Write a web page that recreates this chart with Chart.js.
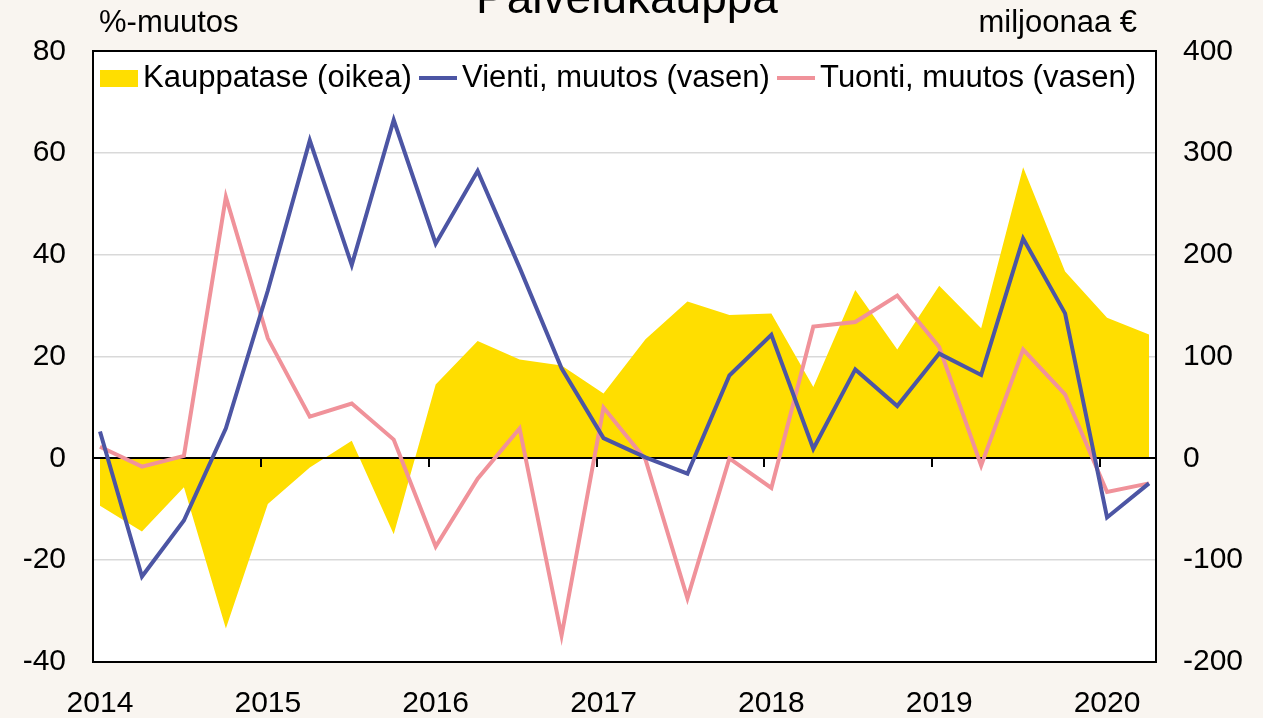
<!DOCTYPE html>
<html>
<head>
<meta charset="utf-8">
<script src="https://cdn.jsdelivr.net/npm/chart.js@4.4.1/dist/chart.umd.min.js"></script>
<style>
  html, body { margin: 0; padding: 0; background: #f9f5f0; }
  #wrap { width: 1263px; height: 718px; }
</style>
</head>
<body>
<div id="wrap"><canvas id="c" width="1263" height="718"></canvas></div>
<script>
// ---- Data ----
const quarters = ['2014Q1','2014Q2','2014Q3','2014Q4','2015Q1','2015Q2','2015Q3','2015Q4',
  '2016Q1','2016Q2','2016Q3','2016Q4','2017Q1','2017Q2','2017Q3','2017Q4',
  '2018Q1','2018Q2','2018Q3','2018Q4','2019Q1','2019Q2','2019Q3','2019Q4','2020Q1','2020Q2'];
const kauppatase = [-46.5,-71.7,-28.2,-167,-44.7,-8.9,17.3,-74.4,72.6,115.3,97.2,91.2,63.8,117.1,
  154.2,140.9,142.3,70.2,165.4,107,169.6,128,286,183.6,138.1,121.7];
const vienti = [5.3,-23.2,-12.2,5.9,33,62.5,38.0,66.5,42.2,56.5,37.5,17.7,4.0,0.2,-3.0,16.3,
  24.3,1.9,17.5,10.3,20.6,16.4,43.2,28.5,-11.6,-4.9];
const tuonti = [2.3,-1.6,0.5,51.4,23.6,8.2,10.8,3.7,-17.3,-4.0,5.9,-34.8,10.0,-0.2,-27.5,0,
  -5.8,25.9,26.8,32.0,21.9,-1.4,21.4,12.6,-6.6,-4.9];
const yearLabels = ['2014','2015','2016','2017','2018','2019','2020'];
const seriesNames = ['Kauppatase (oikea)','Vienti, muutos (vasen)','Tuonti, muutos (vasen)'];
const titleText = 'Palvelukauppa';
const leftUnit = '%-muutos';
const rightUnit = 'miljoonaa €';

// quarter index -> month offset from Jan 2014 (points sit at first month of quarter)
const toPoints = arr => arr.map((v, i) => ({ x: i * 3, y: v }));

const FONT = "'Liberation Sans', Arial, sans-serif";
const LEG_PAD = 17.7;

function legendSymbol(kind, color) {
  const c = document.createElement('canvas');
  c.width = 38;
  c.height = kind === 'rect' ? 17 : 4;
  const g = c.getContext('2d');
  g.fillStyle = color;
  g.fillRect(0, 0, c.width, c.height);
  return c;
}

const bgPlugin = {
  id: 'bg',
  beforeDraw(chart) {
    const { ctx, chartArea: a } = chart;
    ctx.save();
    ctx.fillStyle = '#f9f5f0';
    ctx.fillRect(0, 0, chart.width, chart.height);
    ctx.fillStyle = '#ffffff';
    ctx.fillRect(a.left, a.top, a.right - a.left, a.bottom - a.top);
    ctx.restore();
  }
};

// place the legend inside the plot area, at its top
const legendPlacePlugin = {
  id: 'legendPlace',
  afterLayout(chart) {
    const lg = chart.legend;
    if (!lg) return;
    const h = lg.height;
    lg.left = 92.8;
    lg.right = chart.width;
    lg.top = 44.8;
    lg.bottom = lg.top + h;
  }
};

const zeroAxisPlugin = {
  id: 'zeroAxis',
  beforeDatasetsDraw(chart) {
    const { ctx, chartArea: a, scales } = chart;
    const y0 = Math.round(scales.y.getPixelForValue(0));
    ctx.save();
    ctx.strokeStyle = '#000';
    ctx.lineWidth = 2;
    ctx.beginPath();
    ctx.moveTo(a.left, y0);
    ctx.lineTo(a.right, y0);
    ctx.stroke();
    for (let k = 1; k < yearLabels.length; k++) {
      const x = Math.round(scales.x.getPixelForValue(12 * k - 0.5));
      ctx.beginPath();
      ctx.moveTo(x, y0);
      ctx.lineTo(x, y0 + 9);
      ctx.stroke();
    }
    ctx.restore();
  }
};

const textPlugin = {
  id: 'texts',
  afterDraw(chart) {
    const { ctx } = chart;
    ctx.save();
    ctx.fillStyle = '#000';
    ctx.textBaseline = 'alphabetic';
    ctx.font = '46px ' + FONT;
    ctx.textAlign = 'center';
    ctx.fillText(titleText, 627, 13);
    ctx.font = '31px ' + FONT;
    ctx.textAlign = 'left';
    ctx.fillText(leftUnit, 99, 32);
    ctx.textAlign = 'right';
    ctx.fillText(rightUnit, 1137, 32);
    ctx.restore();
  }
};

new Chart(document.getElementById('c'), {
  type: 'line',
  data: {
    datasets: [
      {
        label: seriesNames[0],
        data: toPoints(kauppatase),
        yAxisID: 'y1',
        fill: 'origin',
        backgroundColor: '#ffde00',
        borderColor: '#ffde00',
        borderWidth: 0,
        pointRadius: 0,
        tension: 0
      },
      {
        label: seriesNames[1],
        data: toPoints(vienti),
        yAxisID: 'y',
        fill: false,
        borderColor: '#4c55a4',
        backgroundColor: '#4c55a4',
        borderWidth: 4,
        pointRadius: 0,
        tension: 0
      },
      {
        label: seriesNames[2],
        data: toPoints(tuonti),
        yAxisID: 'y',
        fill: false,
        borderColor: '#f0929a',
        backgroundColor: '#f0929a',
        borderWidth: 4,
        pointRadius: 0,
        tension: 0
      }
    ]
  },
  options: {
    responsive: false,
    devicePixelRatio: 1,
    animation: false,
    layout: { padding: { top: 59 - (31 + 2 * LEG_PAD), left: 0, right: 0, bottom: 0 } },
    plugins: {
      filler: { drawTime: 'beforeDatasetsDraw', propagate: false },
      tooltip: { enabled: false },
      title: { display: false },
      legend: {
        position: 'top',
        align: 'start',
        labels: {
          usePointStyle: true,
          pointStyleWidth: 17,
          padding: LEG_PAD,
          color: '#000',
          font: { family: FONT, size: 31 },
          generateLabels(chart) {
            const items = Chart.defaults.plugins.legend.labels.generateLabels(chart);
            items.forEach(it => {
              it.pointStyle = it.datasetIndex === 0
                ? legendSymbol('rect', it.fillStyle)
                : legendSymbol('line', it.strokeStyle);
              it.lineWidth = 0;
            });
            return items;
          }
        }
      }
    },
    scales: {
      x: {
        type: 'linear',
        position: 'bottom',
        min: -0.5,
        max: 75.5,
        afterBuildTicks: s => { s.ticks = yearLabels.map((_, k) => ({ value: 12 * k })); },
        ticks: {
          callback: (v, i) => yearLabels[i],
          color: '#000',
          font: { family: FONT, size: 30 },
          padding: 24,
          maxRotation: 0,
          autoSkip: false
        },
        grid: { display: false, drawTicks: false },
        border: { display: true, color: '#000', width: 2 },
        afterFit: s => { s.height = 56; }
      },
      y: {
        position: 'left',
        min: -40,
        max: 80,
        ticks: { stepSize: 20, padding: 27, color: '#000', font: { family: FONT, size: 30 } },
        grid: {
          drawTicks: false,
          color: c => (c.tick.value === 0 ? 'rgba(0,0,0,0)' : (c.tick.value === 80 || c.tick.value === -40) ? '#000' : '#d9d9d9'),
          lineWidth: c => (c.tick.value === 80 || c.tick.value === -40) ? 2 : 1.5
        },
        border: { display: true, color: '#000', width: 2 },
        afterFit: s => { s.width = 93; }
      },
      y1: {
        position: 'right',
        min: -200,
        max: 400,
        ticks: { stepSize: 100, padding: 27, color: '#000', font: { family: FONT, size: 30 } },
        grid: { drawOnChartArea: false, drawTicks: false },
        border: { display: true, color: '#000', width: 2 },
        afterFit: s => { s.width = 107; }
      }
    }
  },
  plugins: [bgPlugin, legendPlacePlugin, zeroAxisPlugin, textPlugin]
});
</script>
</body>
</html>
